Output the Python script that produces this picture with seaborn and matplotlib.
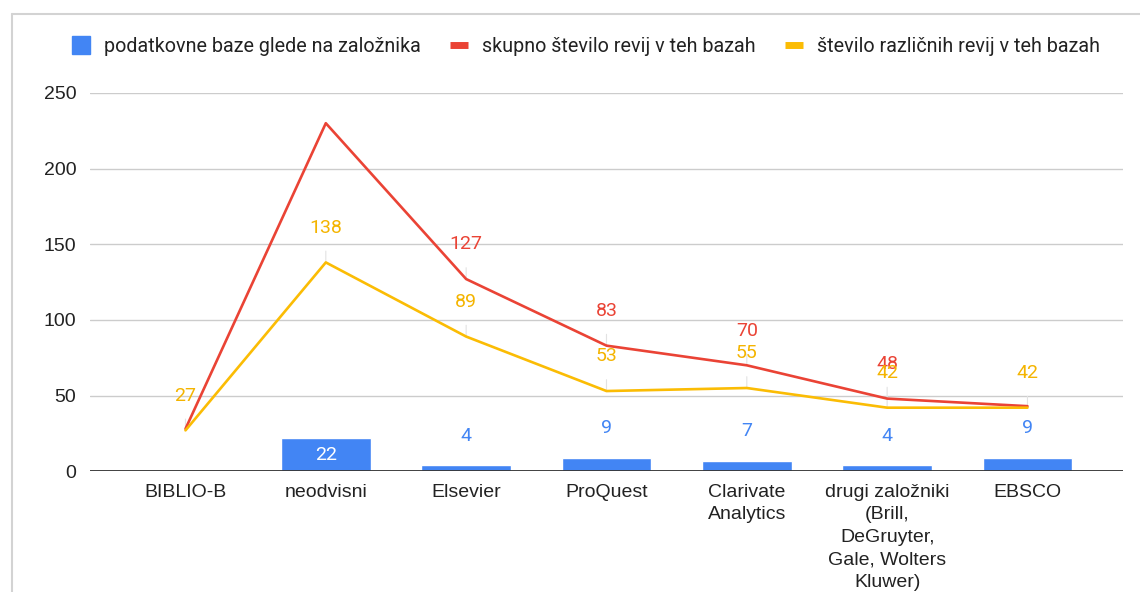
import numpy as np
import pandas as pd
import matplotlib
matplotlib.use("Agg")
import matplotlib.pyplot as plt
from matplotlib.lines import Line2D
import seaborn as sns

# === data ===
categories = ["BIBLIO-B", "neodvisni", "Elsevier", "ProQuest", "Clarivate\nAnalytics",
              "drugi založniki\n(Brill,\nDeGruyter,\nGale, Wolters\nKluwer)", "EBSCO"]
baze = [np.nan, 22, 4, 9, 7, 4, 9]
skupno = [28, 230, 127, 83, 70, 48, 43]
razlicnih = [27, 138, 89, 53, 55, 42, 42]
# which line labels are visible in the original (others hidden by the overlap rule)
show_skupno = [False, False, True, True, True, True, False]
show_razlicnih = [True, True, True, True, True, True, True]

series_names = ["podatkovne baze glede na založnika",
                "skupno število revij v teh bazah",
                "število različnih revij v teh bazah"]
blue, red, yellow = "#4285F4", "#EA4335", "#FBBC04"

df = pd.DataFrame({"kategorija": categories, "baze": baze,
                   "skupno": skupno, "razlicnih": razlicnih})

sns.set_style("white")
plt.rcParams["font.family"] = ["Liberation Sans", "DejaVu Sans"]

fig = plt.figure(figsize=(11.4, 5.92), dpi=100)
ax = fig.add_axes([0.079, 0.204, 0.906, 0.639])

sns.barplot(data=df, x="kategorija", y="baze", order=categories, color=blue,
            width=0.64, saturation=1, errorbar=None, ax=ax, zorder=2)
sns.lineplot(data=df, x="kategorija", y="skupno", color=red, lw=1.9,
             sort=False, ax=ax, zorder=3)
sns.lineplot(data=df, x="kategorija", y="razlicnih", color=yellow, lw=1.9,
             sort=False, ax=ax, zorder=4)

ax.set_ylim(0, 250)
ax.set_xlim(-0.68, len(categories) - 1 + 0.68)
ax.set_yticks([0, 50, 100, 150, 200, 250])
ax.set_xticks(range(len(categories)))
ax.set_xticklabels(categories, linespacing=1.42)
ax.yaxis.grid(True, color="#cccccc", lw=1)
ax.set_axisbelow(True)
for s in ax.spines.values():
    s.set_visible(False)
ax.axhline(0, color="#333333", lw=1.3, zorder=5)
ax.set_xlabel("")
ax.set_ylabel("")
ax.tick_params(axis="both", length=0, labelsize=14, colors="#222222")
ax.tick_params(axis="x", pad=9)
ax.tick_params(axis="y", pad=10)

# data labels
lab_font = dict(family=["Roboto", "DejaVu Sans"], fontsize=14, ha="center", va="center")
lead = dict(arrowstyle="-", color="#e2e2e2", lw=0.8, shrinkA=8, shrinkB=0)
for i, v in enumerate(skupno):
    if show_skupno[i]:
        ax.annotate(str(v), (i, v), xytext=(0, 25), textcoords="offset points",
                    color=red, arrowprops=lead, annotation_clip=False, zorder=1,
                    **lab_font)
for i, v in enumerate(razlicnih):
    if show_razlicnih[i]:
        ax.annotate(str(v), (i, v), xytext=(0, 25), textcoords="offset points",
                    color="#F4B400", arrowprops=lead, annotation_clip=False, zorder=1,
                    **lab_font)
for i, v in enumerate(baze):
    if np.isnan(v):
        continue
    if v > 15:
        ax.annotate(str(int(v)), (i, v / 2), color="white", zorder=6, **lab_font)
    else:
        ax.annotate(str(int(v)), (i, v), xytext=(0, 21), textcoords="offset points",
                    color=blue, zorder=6, **lab_font)

# legend
handles = [Line2D([], [], color=blue, marker="s", markersize=13, lw=0),
           Line2D([], [], color=red, lw=5, solid_capstyle="butt"),
           Line2D([], [], color=yellow, lw=5, solid_capstyle="butt")]
fig.legend(handles, series_names, loc="center", bbox_to_anchor=(0.514, 0.921), ncol=3,
           frameon=False, handlelength=0.9, handletextpad=0.7, columnspacing=1.5,
           prop={"family": ["Roboto", "DejaVu Sans"], "size": 14.2}, labelcolor="#222222")

# chart frame (left and top edges visible in the screenshot)
fig.add_artist(Line2D([12 / 1140, 12 / 1140], [0, 1 - 14 / 592], color="#d3d3d3", lw=1.5))
fig.add_artist(Line2D([12 / 1140, 1], [1 - 14 / 592, 1 - 14 / 592], color="#d3d3d3", lw=1.5))

fig.savefig("out.png", dpi=100)
